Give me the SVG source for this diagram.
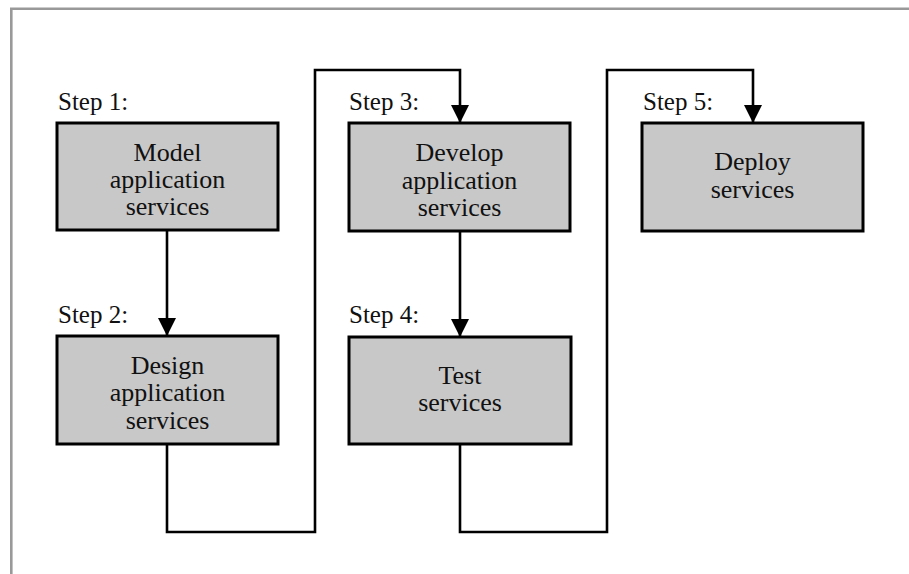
<svg xmlns="http://www.w3.org/2000/svg" width="909" height="574" viewBox="0 0 909 574">
<style>
.frame{fill:none;stroke:#999;stroke-width:2.6}
.box{fill:#c8c8c8;stroke:#000;stroke-width:3}
.conn{fill:none;stroke:#000;stroke-width:2.6}
text{font-family:"Liberation Serif","Times New Roman",serif;font-size:26px;fill:#111}
.s{font-size:25px}
.c{text-anchor:middle}
</style>
<defs>
<marker id="ah" markerUnits="userSpaceOnUse" markerWidth="20" markerHeight="20" viewBox="0 0 20 20" refX="18" refY="10" orient="auto">
<path d="M0,1 L18,10 L0,19 Z" fill="#000"/>
</marker>
</defs>
<rect width="909" height="574" fill="#fff"/>
<path class="frame" d="M11.3,574 V8.7 H909"/>
<g id="connectors">
<path class="conn" d="M167,231 V336" marker-end="url(#ah)"/>
<path class="conn" d="M167,445 V532 H315 V70 H460 V123" marker-end="url(#ah)"/>
<path class="conn" d="M460,232 V337" marker-end="url(#ah)"/>
<path class="conn" d="M460,445 V532 H607 V70 H753 V123" marker-end="url(#ah)"/>
</g>
<g id="step1">
<text class="s" x="58" y="110">Step 1:</text>
<rect class="box" x="57" y="123" width="221" height="107"/>
<text class="c" x="167.5" y="161">Model</text>
<text class="c" x="167.5" y="188">application</text>
<text class="c" x="167.5" y="215">services</text>
</g>
<g id="step2">
<text class="s" x="58" y="323">Step 2:</text>
<rect class="box" x="57" y="336" width="221" height="108"/>
<text class="c" x="167.5" y="374">Design</text>
<text class="c" x="167.5" y="401">application</text>
<text class="c" x="167.5" y="429">services</text>
</g>
<g id="step3">
<text class="s" x="349" y="110">Step 3:</text>
<rect class="box" x="349" y="123" width="221" height="108"/>
<text class="c" x="459.5" y="161">Develop</text>
<text class="c" x="459.5" y="189">application</text>
<text class="c" x="459.5" y="216">services</text>
</g>
<g id="step4">
<text class="s" x="349" y="323">Step 4:</text>
<rect class="box" x="349" y="337" width="222" height="107"/>
<text class="c" x="460" y="384">Test</text>
<text class="c" x="460" y="411">services</text>
</g>
<g id="step5">
<text class="s" x="643" y="110">Step 5:</text>
<rect class="box" x="642" y="123" width="221" height="108"/>
<text class="c" x="752.5" y="170">Deploy</text>
<text class="c" x="752.5" y="198">services</text>
</g>
</svg>
